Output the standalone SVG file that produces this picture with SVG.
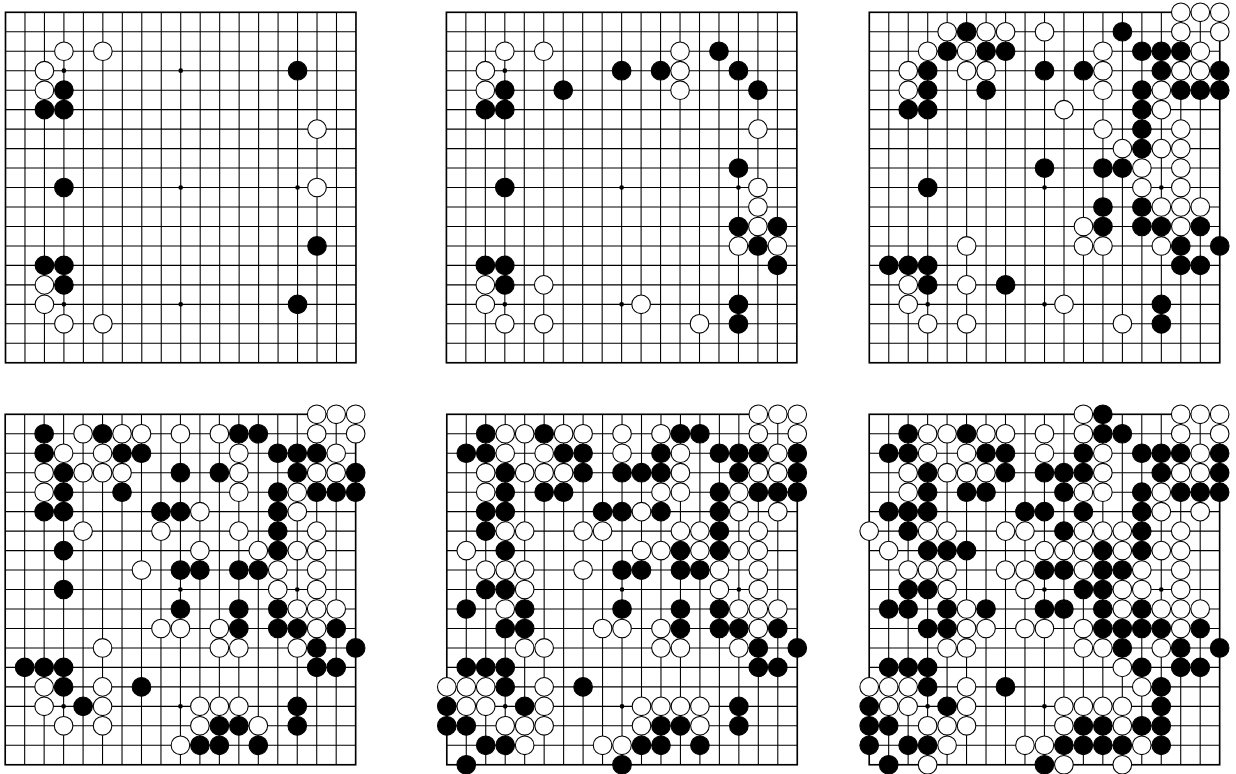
<svg xmlns="http://www.w3.org/2000/svg" xmlns:xlink="http://www.w3.org/1999/xlink" width="1236" height="774" viewBox="0 0 1236 774">
<style>
.ln{fill:none;stroke:#000;stroke-width:0.055}
.bd{fill:none;stroke:#000;stroke-width:0.085}
.st{fill:#000}
</style>
<defs>
<g id="grid">
<path class="ln" d="M0 1H18M0 2H18M0 3H18M0 4H18M0 5H18M0 6H18M0 7H18M0 8H18M0 9H18M0 10H18M0 11H18M0 12H18M0 13H18M0 14H18M0 15H18M0 16H18M0 17H18M1 0V18M2 0V18M3 0V18M4 0V18M5 0V18M6 0V18M7 0V18M8 0V18M9 0V18M10 0V18M11 0V18M12 0V18M13 0V18M14 0V18M15 0V18M16 0V18M17 0V18"/>
<rect class="bd" x="0" y="0" width="18" height="18"/>
<g class="st">
<circle cx="3" cy="3" r="0.12"/><circle cx="9" cy="3" r="0.12"/><circle cx="15" cy="3" r="0.12"/>
<circle cx="3" cy="9" r="0.12"/><circle cx="9" cy="9" r="0.12"/><circle cx="15" cy="9" r="0.12"/>
<circle cx="3" cy="15" r="0.12"/><circle cx="9" cy="15" r="0.12"/><circle cx="15" cy="15" r="0.12"/>
</g>
</g>
<circle id="w" r="0.478" fill="#fff" stroke="#000" stroke-width="0.055"/>
<circle id="b" r="0.478" fill="#000" stroke="#000" stroke-width="0.055"/>
</defs>
<rect width="1236" height="774" fill="#fff"/>

<g id="board-1" transform="translate(5.5 12.3) scale(19.47)">
<use href="#grid"/>
<use href="#w" x="3" y="2"/><use href="#w" x="5" y="2"/><use href="#w" x="2" y="3"/><use href="#w" x="2" y="4"/><use href="#w" x="16" y="6"/><use href="#w" x="16" y="9"/><use href="#w" x="2" y="14"/><use href="#w" x="2" y="15"/><use href="#w" x="3" y="16"/><use href="#w" x="5" y="16"/>
<use href="#b" x="15" y="3"/><use href="#b" x="3" y="4"/><use href="#b" x="2" y="5"/><use href="#b" x="3" y="5"/><use href="#b" x="3" y="9"/><use href="#b" x="16" y="12"/><use href="#b" x="2" y="13"/><use href="#b" x="3" y="13"/><use href="#b" x="3" y="14"/><use href="#b" x="15" y="15"/>
</g>

<g id="board-2" transform="translate(446.4 12.3) scale(19.47)">
<use href="#grid"/>
<use href="#w" x="3" y="2"/><use href="#w" x="5" y="2"/><use href="#w" x="12" y="2"/><use href="#w" x="2" y="3"/><use href="#w" x="12" y="3"/><use href="#w" x="2" y="4"/><use href="#w" x="12" y="4"/><use href="#w" x="16" y="6"/><use href="#w" x="16" y="9"/><use href="#w" x="16" y="10"/><use href="#w" x="16" y="11"/><use href="#w" x="15" y="12"/><use href="#w" x="17" y="12"/><use href="#w" x="2" y="14"/><use href="#w" x="5" y="14"/><use href="#w" x="2" y="15"/><use href="#w" x="10" y="15"/><use href="#w" x="3" y="16"/><use href="#w" x="5" y="16"/><use href="#w" x="13" y="16"/>
<use href="#b" x="14" y="2"/><use href="#b" x="9" y="3"/><use href="#b" x="11" y="3"/><use href="#b" x="15" y="3"/><use href="#b" x="3" y="4"/><use href="#b" x="6" y="4"/><use href="#b" x="16" y="4"/><use href="#b" x="2" y="5"/><use href="#b" x="3" y="5"/><use href="#b" x="15" y="8"/><use href="#b" x="3" y="9"/><use href="#b" x="15" y="11"/><use href="#b" x="17" y="11"/><use href="#b" x="16" y="12"/><use href="#b" x="2" y="13"/><use href="#b" x="3" y="13"/><use href="#b" x="17" y="13"/><use href="#b" x="3" y="14"/><use href="#b" x="15" y="15"/><use href="#b" x="15" y="16"/>
</g>

<g id="board-3" transform="translate(869.3 12.3) scale(19.47)">
<use href="#grid"/>
<use href="#w" x="16" y="0"/><use href="#w" x="17" y="0"/><use href="#w" x="18" y="0"/>
<use href="#w" x="4" y="1"/><use href="#b" x="5" y="1"/><use href="#w" x="6" y="1"/><use href="#w" x="7" y="1"/><use href="#w" x="9" y="1"/><use href="#b" x="13" y="1"/><use href="#w" x="16" y="1"/><use href="#w" x="18" y="1"/>
<use href="#w" x="3" y="2"/><use href="#b" x="4" y="2"/><use href="#w" x="5" y="2"/><use href="#b" x="6" y="2"/><use href="#b" x="7" y="2"/><use href="#w" x="12" y="2"/><use href="#b" x="14" y="2"/><use href="#b" x="15" y="2"/><use href="#b" x="16" y="2"/><use href="#w" x="17" y="2"/>
<use href="#w" x="2" y="3"/><use href="#b" x="3" y="3"/><use href="#w" x="5" y="3"/><use href="#w" x="6" y="3"/><use href="#b" x="9" y="3"/><use href="#b" x="11" y="3"/><use href="#w" x="12" y="3"/><use href="#b" x="15" y="3"/><use href="#w" x="16" y="3"/><use href="#w" x="17" y="3"/><use href="#b" x="18" y="3"/>
<use href="#w" x="2" y="4"/><use href="#b" x="3" y="4"/><use href="#b" x="6" y="4"/><use href="#w" x="12" y="4"/><use href="#b" x="14" y="4"/><use href="#w" x="15" y="4"/><use href="#b" x="16" y="4"/><use href="#b" x="17" y="4"/><use href="#b" x="18" y="4"/>
<use href="#b" x="2" y="5"/><use href="#b" x="3" y="5"/><use href="#w" x="10" y="5"/><use href="#b" x="14" y="5"/><use href="#w" x="15" y="5"/>
<use href="#w" x="12" y="6"/><use href="#b" x="14" y="6"/><use href="#w" x="16" y="6"/>
<use href="#w" x="13" y="7"/><use href="#b" x="14" y="7"/><use href="#w" x="15" y="7"/><use href="#w" x="16" y="7"/>
<use href="#b" x="9" y="8"/><use href="#b" x="12" y="8"/><use href="#b" x="13" y="8"/><use href="#w" x="14" y="8"/><use href="#w" x="16" y="8"/>
<use href="#b" x="3" y="9"/><use href="#w" x="14" y="9"/><use href="#w" x="16" y="9"/>
<use href="#b" x="12" y="10"/><use href="#b" x="14" y="10"/><use href="#w" x="15" y="10"/><use href="#w" x="16" y="10"/><use href="#w" x="17" y="10"/>
<use href="#w" x="11" y="11"/><use href="#b" x="12" y="11"/><use href="#b" x="14" y="11"/><use href="#b" x="15" y="11"/><use href="#w" x="16" y="11"/><use href="#b" x="17" y="11"/>
<use href="#w" x="5" y="12"/><use href="#w" x="11" y="12"/><use href="#w" x="12" y="12"/><use href="#w" x="15" y="12"/><use href="#b" x="16" y="12"/><use href="#b" x="18" y="12"/>
<use href="#b" x="1" y="13"/><use href="#b" x="2" y="13"/><use href="#b" x="3" y="13"/><use href="#b" x="16" y="13"/><use href="#b" x="17" y="13"/>
<use href="#w" x="2" y="14"/><use href="#b" x="3" y="14"/><use href="#w" x="5" y="14"/><use href="#b" x="7" y="14"/>
<use href="#w" x="2" y="15"/><use href="#w" x="10" y="15"/><use href="#b" x="15" y="15"/>
<use href="#w" x="3" y="16"/><use href="#w" x="5" y="16"/><use href="#w" x="13" y="16"/><use href="#b" x="15" y="16"/>
</g>

<g id="board-4" transform="translate(5.2 414.3) scale(19.47)">
<use href="#grid"/>
<use href="#w" x="16" y="0"/><use href="#w" x="17" y="0"/><use href="#w" x="18" y="0"/>
<use href="#b" x="2" y="1"/><use href="#w" x="4" y="1"/><use href="#b" x="5" y="1"/><use href="#w" x="6" y="1"/><use href="#w" x="7" y="1"/><use href="#w" x="9" y="1"/><use href="#w" x="11" y="1"/><use href="#b" x="12" y="1"/><use href="#b" x="13" y="1"/><use href="#w" x="16" y="1"/><use href="#w" x="18" y="1"/>
<use href="#b" x="2" y="2"/><use href="#w" x="3" y="2"/><use href="#w" x="5" y="2"/><use href="#b" x="6" y="2"/><use href="#b" x="7" y="2"/><use href="#w" x="12" y="2"/><use href="#b" x="14" y="2"/><use href="#b" x="15" y="2"/><use href="#b" x="16" y="2"/><use href="#w" x="17" y="2"/>
<use href="#w" x="2" y="3"/><use href="#b" x="3" y="3"/><use href="#w" x="4" y="3"/><use href="#w" x="5" y="3"/><use href="#w" x="6" y="3"/><use href="#b" x="9" y="3"/><use href="#b" x="11" y="3"/><use href="#w" x="12" y="3"/><use href="#b" x="15" y="3"/><use href="#w" x="16" y="3"/><use href="#w" x="17" y="3"/><use href="#b" x="18" y="3"/>
<use href="#w" x="2" y="4"/><use href="#b" x="3" y="4"/><use href="#b" x="6" y="4"/><use href="#w" x="12" y="4"/><use href="#b" x="14" y="4"/><use href="#w" x="15" y="4"/><use href="#b" x="16" y="4"/><use href="#b" x="17" y="4"/><use href="#b" x="18" y="4"/>
<use href="#b" x="2" y="5"/><use href="#b" x="3" y="5"/><use href="#b" x="8" y="5"/><use href="#b" x="9" y="5"/><use href="#w" x="10" y="5"/><use href="#b" x="14" y="5"/><use href="#w" x="15" y="5"/>
<use href="#w" x="4" y="6"/><use href="#w" x="8" y="6"/><use href="#w" x="12" y="6"/><use href="#b" x="14" y="6"/><use href="#w" x="16" y="6"/>
<use href="#b" x="3" y="7"/><use href="#w" x="10" y="7"/><use href="#w" x="13" y="7"/><use href="#b" x="14" y="7"/><use href="#w" x="15" y="7"/><use href="#w" x="16" y="7"/>
<use href="#w" x="7" y="8"/><use href="#b" x="9" y="8"/><use href="#b" x="10" y="8"/><use href="#b" x="12" y="8"/><use href="#b" x="13" y="8"/><use href="#w" x="14" y="8"/><use href="#w" x="16" y="8"/>
<use href="#b" x="3" y="9"/><use href="#w" x="14" y="9"/><use href="#w" x="16" y="9"/>
<use href="#b" x="9" y="10"/><use href="#b" x="12" y="10"/><use href="#b" x="14" y="10"/><use href="#w" x="15" y="10"/><use href="#w" x="16" y="10"/><use href="#w" x="17" y="10"/>
<use href="#w" x="8" y="11"/><use href="#w" x="9" y="11"/><use href="#w" x="11" y="11"/><use href="#b" x="12" y="11"/><use href="#b" x="14" y="11"/><use href="#b" x="15" y="11"/><use href="#w" x="16" y="11"/><use href="#b" x="17" y="11"/>
<use href="#w" x="5" y="12"/><use href="#w" x="11" y="12"/><use href="#w" x="12" y="12"/><use href="#w" x="15" y="12"/><use href="#b" x="16" y="12"/><use href="#b" x="18" y="12"/>
<use href="#b" x="1" y="13"/><use href="#b" x="2" y="13"/><use href="#b" x="3" y="13"/><use href="#b" x="16" y="13"/><use href="#b" x="17" y="13"/>
<use href="#w" x="2" y="14"/><use href="#b" x="3" y="14"/><use href="#w" x="5" y="14"/><use href="#b" x="7" y="14"/>
<use href="#w" x="2" y="15"/><use href="#b" x="4" y="15"/><use href="#w" x="5" y="15"/><use href="#w" x="10" y="15"/><use href="#w" x="11" y="15"/><use href="#w" x="12" y="15"/><use href="#b" x="15" y="15"/>
<use href="#w" x="3" y="16"/><use href="#w" x="5" y="16"/><use href="#w" x="10" y="16"/><use href="#b" x="11" y="16"/><use href="#b" x="12" y="16"/><use href="#w" x="13" y="16"/><use href="#b" x="15" y="16"/>
<use href="#w" x="9" y="17"/><use href="#b" x="10" y="17"/><use href="#b" x="11" y="17"/><use href="#b" x="13" y="17"/>
</g>

<g id="board-5" transform="translate(446.8 414.3) scale(19.47)">
<use href="#grid"/>
<use href="#w" x="16" y="0"/><use href="#w" x="17" y="0"/><use href="#w" x="18" y="0"/>
<use href="#b" x="2" y="1"/><use href="#w" x="3" y="1"/><use href="#w" x="4" y="1"/><use href="#b" x="5" y="1"/><use href="#w" x="6" y="1"/><use href="#w" x="7" y="1"/><use href="#w" x="9" y="1"/><use href="#w" x="11" y="1"/><use href="#b" x="12" y="1"/><use href="#b" x="13" y="1"/><use href="#w" x="16" y="1"/><use href="#w" x="18" y="1"/>
<use href="#b" x="1" y="2"/><use href="#b" x="2" y="2"/><use href="#w" x="3" y="2"/><use href="#w" x="5" y="2"/><use href="#b" x="6" y="2"/><use href="#b" x="7" y="2"/><use href="#w" x="9" y="2"/><use href="#b" x="11" y="2"/><use href="#w" x="12" y="2"/><use href="#b" x="14" y="2"/><use href="#b" x="15" y="2"/><use href="#b" x="16" y="2"/><use href="#w" x="17" y="2"/><use href="#b" x="18" y="2"/>
<use href="#w" x="2" y="3"/><use href="#b" x="3" y="3"/><use href="#w" x="4" y="3"/><use href="#w" x="5" y="3"/><use href="#w" x="6" y="3"/><use href="#b" x="7" y="3"/><use href="#b" x="9" y="3"/><use href="#b" x="10" y="3"/><use href="#b" x="11" y="3"/><use href="#w" x="12" y="3"/><use href="#b" x="15" y="3"/><use href="#w" x="16" y="3"/><use href="#w" x="17" y="3"/><use href="#b" x="18" y="3"/>
<use href="#w" x="2" y="4"/><use href="#b" x="3" y="4"/><use href="#b" x="5" y="4"/><use href="#b" x="6" y="4"/><use href="#w" x="11" y="4"/><use href="#w" x="12" y="4"/><use href="#b" x="14" y="4"/><use href="#w" x="15" y="4"/><use href="#b" x="16" y="4"/><use href="#b" x="17" y="4"/><use href="#b" x="18" y="4"/>
<use href="#b" x="2" y="5"/><use href="#b" x="3" y="5"/><use href="#b" x="8" y="5"/><use href="#b" x="9" y="5"/><use href="#w" x="10" y="5"/><use href="#b" x="11" y="5"/><use href="#b" x="14" y="5"/><use href="#w" x="15" y="5"/><use href="#w" x="17" y="5"/>
<use href="#b" x="2" y="6"/><use href="#w" x="3" y="6"/><use href="#w" x="4" y="6"/><use href="#w" x="7" y="6"/><use href="#w" x="8" y="6"/><use href="#w" x="12" y="6"/><use href="#w" x="13" y="6"/><use href="#b" x="14" y="6"/><use href="#w" x="16" y="6"/>
<use href="#w" x="1" y="7"/><use href="#b" x="3" y="7"/><use href="#w" x="10" y="7"/><use href="#w" x="11" y="7"/><use href="#b" x="12" y="7"/><use href="#w" x="13" y="7"/><use href="#b" x="14" y="7"/><use href="#w" x="15" y="7"/><use href="#w" x="16" y="7"/>
<use href="#w" x="2" y="8"/><use href="#w" x="3" y="8"/><use href="#w" x="4" y="8"/><use href="#w" x="7" y="8"/><use href="#b" x="9" y="8"/><use href="#b" x="10" y="8"/><use href="#b" x="12" y="8"/><use href="#b" x="13" y="8"/><use href="#w" x="14" y="8"/><use href="#w" x="16" y="8"/>
<use href="#b" x="2" y="9"/><use href="#b" x="3" y="9"/><use href="#w" x="4" y="9"/><use href="#w" x="14" y="9"/><use href="#w" x="16" y="9"/>
<use href="#b" x="1" y="10"/><use href="#w" x="3" y="10"/><use href="#b" x="4" y="10"/><use href="#b" x="9" y="10"/><use href="#b" x="12" y="10"/><use href="#b" x="14" y="10"/><use href="#w" x="15" y="10"/><use href="#w" x="16" y="10"/><use href="#w" x="17" y="10"/>
<use href="#b" x="3" y="11"/><use href="#b" x="4" y="11"/><use href="#w" x="8" y="11"/><use href="#w" x="9" y="11"/><use href="#w" x="11" y="11"/><use href="#b" x="12" y="11"/><use href="#b" x="14" y="11"/><use href="#b" x="15" y="11"/><use href="#w" x="16" y="11"/><use href="#b" x="17" y="11"/>
<use href="#w" x="4" y="12"/><use href="#w" x="5" y="12"/><use href="#w" x="11" y="12"/><use href="#w" x="12" y="12"/><use href="#w" x="15" y="12"/><use href="#b" x="16" y="12"/><use href="#b" x="18" y="12"/>
<use href="#b" x="1" y="13"/><use href="#b" x="2" y="13"/><use href="#b" x="3" y="13"/><use href="#b" x="16" y="13"/><use href="#b" x="17" y="13"/>
<use href="#w" x="0" y="14"/><use href="#w" x="1" y="14"/><use href="#w" x="2" y="14"/><use href="#b" x="3" y="14"/><use href="#w" x="5" y="14"/><use href="#b" x="7" y="14"/>
<use href="#b" x="0" y="15"/><use href="#w" x="1" y="15"/><use href="#w" x="2" y="15"/><use href="#b" x="4" y="15"/><use href="#w" x="5" y="15"/><use href="#w" x="10" y="15"/><use href="#w" x="11" y="15"/><use href="#w" x="12" y="15"/><use href="#w" x="13" y="15"/><use href="#b" x="15" y="15"/>
<use href="#b" x="0" y="16"/><use href="#b" x="1" y="16"/><use href="#w" x="3" y="16"/><use href="#w" x="4" y="16"/><use href="#w" x="5" y="16"/><use href="#w" x="10" y="16"/><use href="#b" x="11" y="16"/><use href="#b" x="12" y="16"/><use href="#w" x="13" y="16"/><use href="#b" x="15" y="16"/>
<use href="#b" x="2" y="17"/><use href="#b" x="3" y="17"/><use href="#w" x="4" y="17"/><use href="#w" x="8" y="17"/><use href="#w" x="9" y="17"/><use href="#b" x="10" y="17"/><use href="#b" x="11" y="17"/><use href="#b" x="13" y="17"/>
<use href="#b" x="1" y="18"/><use href="#b" x="9" y="18"/>
</g>

<g id="board-6" transform="translate(869.2 414.3) scale(19.47)">
<use href="#grid"/>
<use href="#w" x="11" y="0"/><use href="#b" x="12" y="0"/><use href="#w" x="16" y="0"/><use href="#w" x="17" y="0"/><use href="#w" x="18" y="0"/>
<use href="#b" x="2" y="1"/><use href="#w" x="3" y="1"/><use href="#w" x="4" y="1"/><use href="#b" x="5" y="1"/><use href="#w" x="6" y="1"/><use href="#w" x="7" y="1"/><use href="#w" x="9" y="1"/><use href="#w" x="11" y="1"/><use href="#b" x="12" y="1"/><use href="#b" x="13" y="1"/><use href="#w" x="16" y="1"/><use href="#w" x="18" y="1"/>
<use href="#b" x="1" y="2"/><use href="#b" x="2" y="2"/><use href="#w" x="3" y="2"/><use href="#w" x="5" y="2"/><use href="#b" x="6" y="2"/><use href="#b" x="7" y="2"/><use href="#w" x="9" y="2"/><use href="#b" x="11" y="2"/><use href="#w" x="12" y="2"/><use href="#b" x="14" y="2"/><use href="#b" x="15" y="2"/><use href="#b" x="16" y="2"/><use href="#w" x="17" y="2"/><use href="#b" x="18" y="2"/>
<use href="#w" x="2" y="3"/><use href="#b" x="3" y="3"/><use href="#w" x="4" y="3"/><use href="#w" x="5" y="3"/><use href="#w" x="6" y="3"/><use href="#b" x="7" y="3"/><use href="#b" x="9" y="3"/><use href="#b" x="10" y="3"/><use href="#b" x="11" y="3"/><use href="#w" x="12" y="3"/><use href="#b" x="15" y="3"/><use href="#w" x="16" y="3"/><use href="#w" x="17" y="3"/><use href="#b" x="18" y="3"/>
<use href="#w" x="2" y="4"/><use href="#b" x="3" y="4"/><use href="#b" x="5" y="4"/><use href="#b" x="6" y="4"/><use href="#b" x="10" y="4"/><use href="#w" x="11" y="4"/><use href="#w" x="12" y="4"/><use href="#b" x="14" y="4"/><use href="#w" x="15" y="4"/><use href="#b" x="16" y="4"/><use href="#b" x="17" y="4"/><use href="#b" x="18" y="4"/>
<use href="#b" x="1" y="5"/><use href="#b" x="2" y="5"/><use href="#b" x="3" y="5"/><use href="#b" x="8" y="5"/><use href="#b" x="9" y="5"/><use href="#b" x="11" y="5"/><use href="#b" x="14" y="5"/><use href="#w" x="15" y="5"/><use href="#w" x="17" y="5"/>
<use href="#w" x="0" y="6"/><use href="#b" x="2" y="6"/><use href="#w" x="3" y="6"/><use href="#w" x="4" y="6"/><use href="#w" x="7" y="6"/><use href="#w" x="8" y="6"/><use href="#b" x="10" y="6"/><use href="#w" x="11" y="6"/><use href="#w" x="12" y="6"/><use href="#w" x="13" y="6"/><use href="#b" x="14" y="6"/><use href="#w" x="16" y="6"/>
<use href="#w" x="1" y="7"/><use href="#b" x="3" y="7"/><use href="#b" x="4" y="7"/><use href="#b" x="5" y="7"/><use href="#w" x="9" y="7"/><use href="#w" x="10" y="7"/><use href="#w" x="11" y="7"/><use href="#b" x="12" y="7"/><use href="#w" x="13" y="7"/><use href="#b" x="14" y="7"/><use href="#w" x="15" y="7"/><use href="#w" x="16" y="7"/>
<use href="#w" x="2" y="8"/><use href="#w" x="3" y="8"/><use href="#w" x="4" y="8"/><use href="#w" x="7" y="8"/><use href="#w" x="8" y="8"/><use href="#b" x="9" y="8"/><use href="#b" x="10" y="8"/><use href="#w" x="11" y="8"/><use href="#b" x="12" y="8"/><use href="#b" x="13" y="8"/><use href="#w" x="14" y="8"/><use href="#w" x="16" y="8"/>
<use href="#b" x="2" y="9"/><use href="#b" x="3" y="9"/><use href="#w" x="4" y="9"/><use href="#w" x="8" y="9"/><use href="#b" x="11" y="9"/><use href="#b" x="12" y="9"/><use href="#w" x="13" y="9"/><use href="#w" x="14" y="9"/><use href="#w" x="16" y="9"/>
<use href="#b" x="1" y="10"/><use href="#b" x="2" y="10"/><use href="#b" x="4" y="10"/><use href="#w" x="5" y="10"/><use href="#b" x="6" y="10"/><use href="#b" x="9" y="10"/><use href="#b" x="10" y="10"/><use href="#b" x="12" y="10"/><use href="#w" x="13" y="10"/><use href="#b" x="14" y="10"/><use href="#w" x="15" y="10"/><use href="#w" x="16" y="10"/><use href="#w" x="17" y="10"/>
<use href="#b" x="3" y="11"/><use href="#b" x="4" y="11"/><use href="#w" x="5" y="11"/><use href="#w" x="6" y="11"/><use href="#w" x="8" y="11"/><use href="#w" x="9" y="11"/><use href="#w" x="11" y="11"/><use href="#b" x="12" y="11"/><use href="#b" x="13" y="11"/><use href="#b" x="14" y="11"/><use href="#b" x="15" y="11"/><use href="#w" x="16" y="11"/><use href="#b" x="17" y="11"/>
<use href="#w" x="4" y="12"/><use href="#w" x="5" y="12"/><use href="#w" x="11" y="12"/><use href="#w" x="12" y="12"/><use href="#b" x="13" y="12"/><use href="#w" x="15" y="12"/><use href="#b" x="16" y="12"/><use href="#b" x="18" y="12"/>
<use href="#b" x="1" y="13"/><use href="#b" x="2" y="13"/><use href="#b" x="3" y="13"/><use href="#w" x="13" y="13"/><use href="#b" x="14" y="13"/><use href="#b" x="16" y="13"/><use href="#b" x="17" y="13"/>
<use href="#w" x="0" y="14"/><use href="#w" x="1" y="14"/><use href="#w" x="2" y="14"/><use href="#b" x="3" y="14"/><use href="#w" x="5" y="14"/><use href="#b" x="7" y="14"/><use href="#w" x="14" y="14"/><use href="#b" x="15" y="14"/>
<use href="#b" x="0" y="15"/><use href="#w" x="1" y="15"/><use href="#w" x="2" y="15"/><use href="#b" x="4" y="15"/><use href="#w" x="5" y="15"/><use href="#w" x="10" y="15"/><use href="#w" x="11" y="15"/><use href="#w" x="12" y="15"/><use href="#w" x="13" y="15"/><use href="#b" x="15" y="15"/>
<use href="#b" x="0" y="16"/><use href="#b" x="1" y="16"/><use href="#w" x="3" y="16"/><use href="#w" x="4" y="16"/><use href="#w" x="5" y="16"/><use href="#w" x="10" y="16"/><use href="#b" x="11" y="16"/><use href="#b" x="12" y="16"/><use href="#w" x="13" y="16"/><use href="#b" x="14" y="16"/><use href="#b" x="15" y="16"/>
<use href="#b" x="0" y="17"/><use href="#b" x="2" y="17"/><use href="#b" x="3" y="17"/><use href="#w" x="4" y="17"/><use href="#w" x="8" y="17"/><use href="#w" x="9" y="17"/><use href="#b" x="10" y="17"/><use href="#b" x="11" y="17"/><use href="#b" x="12" y="17"/><use href="#b" x="13" y="17"/><use href="#w" x="14" y="17"/><use href="#b" x="15" y="17"/>
<use href="#b" x="1" y="18"/><use href="#w" x="3" y="18"/><use href="#b" x="9" y="18"/><use href="#w" x="10" y="18"/><use href="#w" x="13" y="18"/>
</g>
</svg>
